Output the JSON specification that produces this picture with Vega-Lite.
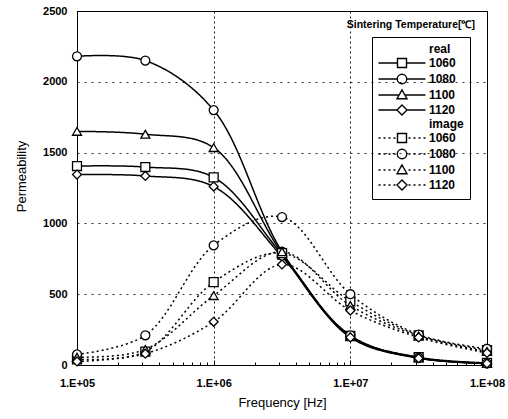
{
  "$schema": "https://vega.github.io/schema/vega-lite/v6.json",
  "width": 410,
  "height": 354,
  "autosize": {"type": "none"},
  "padding": {"left": 77, "top": 11, "right": 21, "bottom": 54},
  "background": "white",
  "title": {"text": "Sintering Temperature[℃]", "anchor": "end", "frame": "group", "offset": -25, "dx": -12, "fontSize": 10.5, "fontWeight": "bold", "font": "Liberation Sans", "color": "black"},
  "config": {
    "view": {"stroke": "black", "strokeWidth": 1},
    "axis": {"labelFont": "Liberation Sans", "titleFont": "Liberation Sans", "labelColor": "black", "titleColor": "black", "labelFontWeight": "bold", "labelFontSize": 11, "titleFontSize": 13, "titleFontWeight": "normal", "domainColor": "black", "tickColor": "black"},
    "legend": {"labelFont": "Liberation Sans", "labelFontSize": 12, "labelFontWeight": "bold", "labelColor": "black"}
  },
  "data": {"values": [
    {"f": 100000, "v": 1405, "temp": "1060", "type": "real", "key": "r1060"},
    {"f": 316228, "v": 1398, "temp": "1060", "type": "real", "key": "r1060"},
    {"f": 1000000, "v": 1325, "temp": "1060", "type": "real", "key": "r1060"},
    {"f": 3162278, "v": 780, "temp": "1060", "type": "real", "key": "r1060"},
    {"f": 10000000, "v": 205, "temp": "1060", "type": "real", "key": "r1060"},
    {"f": 31622777, "v": 55, "temp": "1060", "type": "real", "key": "r1060"},
    {"f": 100000000, "v": 15, "temp": "1060", "type": "real", "key": "r1060"},
    {"f": 100000, "v": 2180, "temp": "1080", "type": "real", "key": "r1080"},
    {"f": 316228, "v": 2150, "temp": "1080", "type": "real", "key": "r1080"},
    {"f": 1000000, "v": 1800, "temp": "1080", "type": "real", "key": "r1080"},
    {"f": 3162278, "v": 800, "temp": "1080", "type": "real", "key": "r1080"},
    {"f": 10000000, "v": 210, "temp": "1080", "type": "real", "key": "r1080"},
    {"f": 31622777, "v": 50, "temp": "1080", "type": "real", "key": "r1080"},
    {"f": 100000000, "v": 12, "temp": "1080", "type": "real", "key": "r1080"},
    {"f": 100000, "v": 1650, "temp": "1100", "type": "real", "key": "r1100"},
    {"f": 316228, "v": 1630, "temp": "1100", "type": "real", "key": "r1100"},
    {"f": 1000000, "v": 1535, "temp": "1100", "type": "real", "key": "r1100"},
    {"f": 3162278, "v": 790, "temp": "1100", "type": "real", "key": "r1100"},
    {"f": 10000000, "v": 200, "temp": "1100", "type": "real", "key": "r1100"},
    {"f": 31622777, "v": 50, "temp": "1100", "type": "real", "key": "r1100"},
    {"f": 100000000, "v": 12, "temp": "1100", "type": "real", "key": "r1100"},
    {"f": 100000, "v": 1345, "temp": "1120", "type": "real", "key": "r1120"},
    {"f": 316228, "v": 1335, "temp": "1120", "type": "real", "key": "r1120"},
    {"f": 1000000, "v": 1260, "temp": "1120", "type": "real", "key": "r1120"},
    {"f": 3162278, "v": 765, "temp": "1120", "type": "real", "key": "r1120"},
    {"f": 10000000, "v": 195, "temp": "1120", "type": "real", "key": "r1120"},
    {"f": 31622777, "v": 48, "temp": "1120", "type": "real", "key": "r1120"},
    {"f": 100000000, "v": 10, "temp": "1120", "type": "real", "key": "r1120"},
    {"f": 100000, "v": 40, "temp": "1060", "type": "image", "key": "i1060"},
    {"f": 316228, "v": 95, "temp": "1060", "type": "image", "key": "i1060"},
    {"f": 1000000, "v": 585, "temp": "1060", "type": "image", "key": "i1060"},
    {"f": 3162278, "v": 790, "temp": "1060", "type": "image", "key": "i1060"},
    {"f": 10000000, "v": 450, "temp": "1060", "type": "image", "key": "i1060"},
    {"f": 31622777, "v": 210, "temp": "1060", "type": "image", "key": "i1060"},
    {"f": 100000000, "v": 105, "temp": "1060", "type": "image", "key": "i1060"},
    {"f": 100000, "v": 75, "temp": "1080", "type": "image", "key": "i1080"},
    {"f": 316228, "v": 210, "temp": "1080", "type": "image", "key": "i1080"},
    {"f": 1000000, "v": 845, "temp": "1080", "type": "image", "key": "i1080"},
    {"f": 3162278, "v": 1045, "temp": "1080", "type": "image", "key": "i1080"},
    {"f": 10000000, "v": 500, "temp": "1080", "type": "image", "key": "i1080"},
    {"f": 31622777, "v": 215, "temp": "1080", "type": "image", "key": "i1080"},
    {"f": 100000000, "v": 115, "temp": "1080", "type": "image", "key": "i1080"},
    {"f": 100000, "v": 55, "temp": "1100", "type": "image", "key": "i1100"},
    {"f": 316228, "v": 110, "temp": "1100", "type": "image", "key": "i1100"},
    {"f": 1000000, "v": 490, "temp": "1100", "type": "image", "key": "i1100"},
    {"f": 3162278, "v": 800, "temp": "1100", "type": "image", "key": "i1100"},
    {"f": 10000000, "v": 420, "temp": "1100", "type": "image", "key": "i1100"},
    {"f": 31622777, "v": 205, "temp": "1100", "type": "image", "key": "i1100"},
    {"f": 100000000, "v": 95, "temp": "1100", "type": "image", "key": "i1100"},
    {"f": 100000, "v": 25, "temp": "1120", "type": "image", "key": "i1120"},
    {"f": 316228, "v": 80, "temp": "1120", "type": "image", "key": "i1120"},
    {"f": 1000000, "v": 305, "temp": "1120", "type": "image", "key": "i1120"},
    {"f": 3162278, "v": 710, "temp": "1120", "type": "image", "key": "i1120"},
    {"f": 10000000, "v": 385, "temp": "1120", "type": "image", "key": "i1120"},
    {"f": 31622777, "v": 195, "temp": "1120", "type": "image", "key": "i1120"},
    {"f": 100000000, "v": 85, "temp": "1120", "type": "image", "key": "i1120"}
  ]},
  "encoding": {
    "x": {
      "field": "f", "type": "quantitative", "title": "Frequency [Hz]",
      "scale": {"type": "log", "domain": [100000, 100000000], "nice": false},
      "axis": {
        "values": [100000, 200000, 300000, 400000, 500000, 600000, 700000, 800000, 900000, 1000000, 2000000, 3000000, 4000000, 5000000, 6000000, 7000000, 8000000, 9000000, 10000000, 20000000, 30000000, 40000000, 50000000, 60000000, 70000000, 80000000, 90000000, 100000000],
        "labelExpr": "abs(log(datum.value)/LN10 - round(log(datum.value)/LN10)) < 0.01 ? '1.E+0' + round(log(datum.value)/LN10) : ''",
        "labelOverlap": false,
        "labelBound": false,
        "labelFlush": false,
        "labelPadding": 17,
        "tickSize": {"condition": {"test": "abs(log(datum.value)/LN10 - round(log(datum.value)/LN10)) < 0.01", "value": -5}, "value": -3},
        "grid": true,
        "gridColor": "black",
        "gridDash": [2, 3],
        "gridOpacity": {"condition": {"test": "abs(log(datum.value)/LN10 - round(log(datum.value)/LN10)) < 0.01", "value": 0.9}, "value": 0},
        "titlePadding": 6
      }
    },
    "y": {
      "field": "v", "type": "quantitative", "title": "Permeability",
      "scale": {"domain": [0, 2500], "nice": false},
      "axis": {"values": [0, 500, 1000, 1500, 2000, 2500], "format": "d", "ticks": false, "labelPadding": 10, "grid": true, "gridColor": "black", "gridDash": [2, 5], "gridOpacity": 0.8, "titlePadding": 14, "titleY": 165}
    }
  },
  "layer": [
    {
      "mark": {"type": "line", "interpolate": "catmull-rom", "color": "black", "strokeWidth": 1.5},
      "encoding": {
        "detail": {"field": "key", "type": "nominal"},
        "strokeDash": {"field": "type", "type": "nominal", "scale": {"domain": ["real", "image"], "range": [[1, 0], [2, 3]]}, "legend": null}
      }
    },
    {
      "mark": {"type": "point", "filled": true, "fill": "white", "stroke": "black", "strokeWidth": 1.3, "size": 80, "opacity": 1},
      "encoding": {
        "shape": {
          "field": "key", "type": "nominal",
          "scale": {"domain": ["r1060", "r1080", "r1100", "r1120", "i1060", "i1080", "i1100", "i1120"], "range": ["square", "circle", "triangle-up", "diamond", "square", "circle", "triangle-up", "diamond"]},
          "legend": null
        }
      }
    },
    {
      "transform": [{"filter": "false"}],
      "mark": {"type": "point", "filled": false, "color": "black", "strokeWidth": 1.4, "opacity": 1},
      "encoding": {
        "shape": {
          "field": "key", "type": "nominal",
          "scale": {
            "domain": ["real", "r1060", "r1080", "r1100", "r1120", "image", "i1060", "i1080", "i1100", "i1120"],
            "range": [
              "M0,0",
              "M-4.7,0L-0.9,0M0.9,0L4.7,0M-0.9,-0.9L0.9,-0.9L0.9,0.9L-0.9,0.9Z",
              "M-4.7,0L-0.95,0M0.95,0L4.7,0M-0.95,0A0.95,0.95,0,1,0,0.95,0A0.95,0.95,0,1,0,-0.95,0Z",
              "M-4.7,0L-0.7,0M0.7,0L4.7,0M0,-1L1,0.75L-1,0.75Z",
              "M-4.7,0L-1,0M1,0L4.7,0M0,-1L1,0L0,1L-1,0Z",
              "M0,0",
              "M-4.7,0H-4.3M-3.7,0H-3.3M-2.7,0H-2.3M-1.7,0H-1.3M1.3,0H1.7M2.3,0H2.7M3.3,0H3.7M4.3,0H4.7M-0.9,-0.9H0.9V0.9H-0.9Z",
              "M-4.7,0H-4.3M-3.7,0H-3.3M-2.7,0H-2.3M-1.7,0H-1.3M1.3,0H1.7M2.3,0H2.7M3.3,0H3.7M4.3,0H4.7M-0.95,0A0.95,0.95,0,1,0,0.95,0A0.95,0.95,0,1,0,-0.95,0Z",
              "M-4.7,0H-4.3M-3.7,0H-3.3M-2.7,0H-2.3M-1.7,0H-1.3M1.3,0H1.7M2.3,0H2.7M3.3,0H3.7M4.3,0H4.7M0,-1L1,0.75H-1Z",
              "M-4.7,0H-4.3M-3.7,0H-3.3M-2.7,0H-2.3M-1.7,0H-1.3M1.3,0H1.7M2.3,0H2.7M3.3,0H3.7M4.3,0H4.7M0,-1L1,0L0,1L-1,0Z"
            ]
          },
          "legend": {
            "title": null,
            "orient": "none",
            "legendX": 295,
            "legendY": 26,
            "strokeColor": "black",
            "padding": 6,
            "rowPadding": 0,
            "symbolSize": 100,
            "symbolOffset": 18,
            "labelOffset": 21,
            "symbolStrokeWidth": 1.4,
            "symbolStrokeColor": "black",
            "symbolOpacity": 1,
            "labelExpr": "datum.value == 'real' || datum.value == 'image' ? datum.value : substring(datum.value, 1)"
          }
        }
      }
    }
  ],
  "resolve": {"scale": {"shape": "independent"}}
}
